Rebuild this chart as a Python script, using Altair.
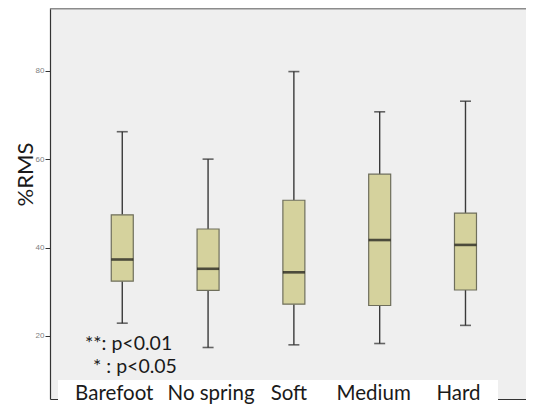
import altair as alt
import pandas as pd

categories = ["Barefoot", "No spring", "Soft", "Medium", "Hard"]
whisker_low = [22.9, 17.4, 18.0, 18.3, 22.4]
q1 = [32.4, 30.3, 27.2, 26.9, 30.4]
median = [37.3, 35.2, 34.4, 41.7, 40.6]
q3 = [47.4, 44.2, 50.7, 56.6, 47.8]
whisker_high = [66.2, 60.0, 79.8, 70.7, 73.1]
y_ticks = [20, 40, 60, 80]
notes = ["**: p<0.01", "* : p<0.05"]
label_nudge = [-8, 3, -5, -6, -7]

df = pd.DataFrame({
    "cat": categories,
    "idx": list(range(len(categories))),
    "lo": whisker_low,
    "q1": q1,
    "med": median,
    "q3": q3,
    "hi": whisker_high,
})

W, H = 476, 391
xs = alt.Scale(domain=[-0.784, 4.647], nice=False, zero=False)
ys = alt.Scale(domain=[5.75, 94.18], nice=False, zero=False)

X = alt.X("idx:Q", scale=xs, axis=alt.Axis(labels=False, ticks=False, grid=False, title=None,
                                            domainColor="#333333", domainWidth=1.2))
Y_axis = alt.Axis(values=y_ticks, grid=False, title="%RMS", labelFontSize=8, labelColor="#808080",
                  labelFont="Liberation Sans", tickSize=5, tickColor="#333333", tickWidth=1,
                  domainColor="#333333", domainWidth=1.2, labelPadding=1,
                  titleFont="Lato", titleFontSize=22, titleFontWeight="normal", titleColor="#1a1a1a",
                  titleX=-25, titleY=166, titleAngle=270, titleAlign="center", titleBaseline="middle")

base = alt.Chart(df)

whisk_lo = base.mark_rule(color="#3a3a3a", strokeWidth=1.4).encode(
    x=X, y=alt.Y("lo:Q", scale=ys, axis=Y_axis), y2="q1:Q")
whisk_hi = base.mark_rule(color="#3a3a3a", strokeWidth=1.4).encode(
    x="idx:Q", y=alt.Y("q3:Q", scale=ys), y2="hi:Q")
cap_lo = base.mark_tick(orient="horizontal", size=11, thickness=1.6, color="#2a2a2a").encode(
    x="idx:Q", y=alt.Y("lo:Q", scale=ys))
cap_hi = base.mark_tick(orient="horizontal", size=11, thickness=1.6, color="#2a2a2a").encode(
    x="idx:Q", y=alt.Y("hi:Q", scale=ys))
box = base.mark_bar(size=22, fill="#d5d29d", stroke="#6f6f5c", strokeWidth=1.2).encode(
    x="idx:Q", y=alt.Y("q1:Q", scale=ys), y2="q3:Q")
med = base.mark_tick(orient="horizontal", size=22, thickness=2.6, color="#111111").encode(
    x="idx:Q", y=alt.Y("med:Q", scale=ys))

top_border = alt.Chart(pd.DataFrame({"a": [0]})).mark_rule(color="#8c8c8c", strokeWidth=2).encode(
    x=alt.value(0), x2=alt.value(W), y=alt.value(0.5))

white_strip = alt.Chart(pd.DataFrame({"a": [0]})).mark_rect(color="white").encode(
    x=alt.value(8), x2=alt.value(448), y=alt.value(372), y2=alt.value(420))

label_layers = [
    alt.Chart(df[df["cat"] == c]).mark_text(font="Lato", fontSize=20.5, color="#1a1a1a",
                                             baseline="alphabetic", dx=n).encode(
        x=alt.X("idx:Q", scale=xs), y=alt.value(392), text="cat:N")
    for c, n in zip(categories, label_nudge)
]

note_df = pd.DataFrame({"t": notes, "px": [35, 43], "py": [342, 365]})
note_marks = alt.Chart(note_df).mark_text(font="Lato", fontSize=19.5, color="#1a1a1a", align="left",
                                          baseline="alphabetic").encode(
    x=alt.X("px:Q", scale=None), y=alt.Y("py:Q", scale=None), text="t:N")

chart = alt.layer(whisk_lo, whisk_hi, cap_lo, cap_hi, box, med, top_border, white_strip,
                  *label_layers, note_marks).properties(
    width=W, height=H,
    background="white",
    autosize=alt.AutoSizeParams(type="none"),
    padding={"left": 42, "top": 0, "right": 0, "bottom": 6},
).configure_view(fill="#efefef", stroke="transparent", strokeWidth=0)

chart.save("out.html", embed_options={"renderer": "svg", "actions": False})
